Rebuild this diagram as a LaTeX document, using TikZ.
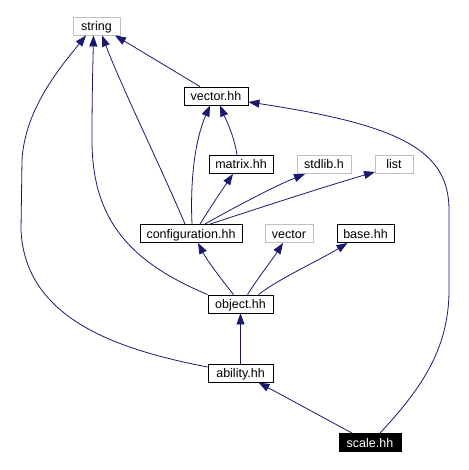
\documentclass[tikz,border=0pt]{standalone}
\usepackage{fontspec}
\setmainfont{Liberation Sans}
\usetikzlibrary{arrows.meta}
\definecolor{edgec}{RGB}{25,25,112}
\definecolor{grayb}{RGB}{191,191,191}
\begin{document}
\begin{tikzpicture}[x=1pt,y=-1pt,
  box/.style={draw=black,line width=0.9pt,inner sep=0pt,minimum height=18pt,
    font=\fontsize{12.5}{14}\selectfont,text height=9pt,text depth=0pt},
  gbox/.style={box,draw=grayb},
  ed/.style={draw=edgec,line width=0.8pt,-{Triangle[length=11pt,width=8pt]}}]
\useasboundingbox[fill=white] (0,0) rectangle (468,470);
\node[gbox,minimum width=47pt] (string) at (96.5,26) {string};
\node[box,minimum width=64pt] (vh) at (216,96) {vector.hh};
\node[box,minimum width=64pt] (matrix) at (241,164.5) {matrix.hh};
\node[gbox,minimum width=54pt] (stdlib) at (324,164.5) {stdlib.h};
\node[gbox,minimum width=38pt] (list) at (394,164.5) {list};
\node[box,minimum width=102pt] (conf) at (191,233.5) {configuration.hh};
\node[gbox,minimum width=48pt] (vec) at (289,233.5) {vector};
\node[box,minimum width=57pt] (base) at (365.5,233.5) {base.hh};
\node[box,minimum width=65pt] (object) at (240.5,304) {object.hh};
\node[box,minimum width=65pt] (ability) at (240.5,373) {ability.hh};
\node[box,minimum width=62pt,fill=black,text=white] (scale) at (370,442.5) {scale.hh};
% to string
\draw[ed] ([xshift=-16pt]vh.north) -- ([xshift=18.5pt]string.south);
\draw[ed] ([xshift=-6pt]conf.north) .. controls (160,165) and (122,88) .. ([xshift=5.5pt]string.south);
\draw[ed] (object.north west) .. controls (130,262) and (92,220) .. (92,140)
  .. controls (92,90) and (93,60) .. ([xshift=-3pt]string.south);
\draw[ed] ([yshift=6pt]ability.west) .. controls (120,350) and (25,320) .. (21,230)
  -- (22,160) .. controls (25,110) and (58,70) .. ([xshift=-10.5pt]string.south);
% to vector.hh
\draw[ed] ([xshift=1pt]conf.north) .. controls (190,180) and (195,140) .. ([xshift=-6pt]vh.south);
\draw[ed] ([xshift=-4pt]matrix.north) .. controls (234,135) and (226,120) .. ([xshift=4pt]vh.south);
\draw[ed] ([xshift=10pt]scale.north) .. controls (420,390) and (449,350) .. (449,290)
  -- (449,210) .. controls (449,150) and (400,125) .. ([yshift=-6pt]vh.east);
% from configuration
\draw[ed] ([xshift=9pt]conf.north) .. controls (210,208) and (222,190) .. ([xshift=-8pt]matrix.south);
\draw[ed] ([xshift=14pt]conf.north) .. controls (235,207) and (275,186) .. ([xshift=-19pt]stdlib.south);
\draw[ed] ([xshift=19pt]conf.north) .. controls (250,211) and (320,188) .. ([xshift=-19pt,yshift=2pt]list.south);
% from object
\draw[ed] ([xshift=-7pt]object.north) .. controls (222,280) and (208,262) .. ([xshift=7pt]conf.south);
\draw[ed] ([xshift=7pt]object.north) .. controls (258,278) and (272,260) .. ([xshift=-6pt]vec.south);
\draw[ed] ([xshift=18pt]object.north) .. controls (280,278) and (320,260) .. ([xshift=-18pt]base.south);
% lower chain
\draw[ed] (ability.north) -- (object.south);
\draw[ed] ([xshift=-18pt]scale.north) -- ([xshift=18pt]ability.south);
\end{tikzpicture}
\end{document}
